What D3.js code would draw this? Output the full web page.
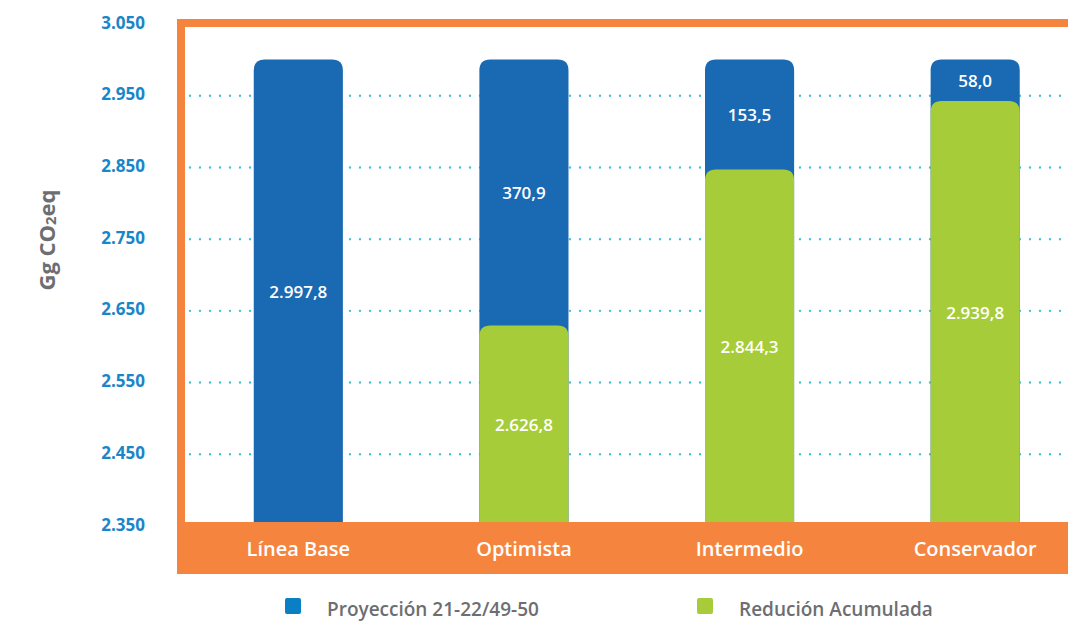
<!DOCTYPE html>
<html>
<head>
<meta charset="utf-8">
<script src="https://cdn.jsdelivr.net/npm/d3@7"></script>
<style>
	body { margin: 0; background: #fff; }
	svg { display: block; font-family: 'Open Sans', 'Noto Sans', sans-serif; }
</style>
</head>
<body>
<div id="chart"></div>
<script>
// data
const categories = ['Línea Base', 'Optimista', 'Intermedio', 'Conservador']
const reduction = [0, 2626.8, 2844.3, 2939.8]
const projection = [2997.8, 370.9, 153.5, 58.0]
const tickValues = [2350, 2450, 2550, 2650, 2750, 2850, 2950, 3050]
const seriesNames = ['Proyección 21-22/49-50', 'Redución Acumulada']

const width = 1068
const height = 624
const orange = '#F5843F'
const blue = '#1A69B3'
const green = '#A6CD39'
const tickBlue = '#1A86C8'
const grey = '#6D6E71'

const fmt = v => {
	// spanish style: 2.997,8
	const s = v.toFixed(1).split('.')
	return s[0].replace(/\B(?=(\d{3})+(?!\d))/g, '.') + ',' + s[1]
}
const fmtTick = v => String(v).replace(/\B(?=(\d{3})+(?!\d))/g, '.')

const svg = d3.select('#chart').append('svg').attr('width', width).attr('height', height)

const y = d3.scaleLinear().domain([2350, 3050]).range([524, 22])
const x = d3.scaleBand().domain(categories).range([185.5, 1088]).paddingInner(0.605).paddingOuter(0.3025)

// gridlines
svg.append('g')
	.selectAll('line')
	.data(tickValues.filter(t => t > 2350 && t < 3050))
	.enter()
	.append('line')
	.attr('x1', 190)
	.attr('x2', width)
	.attr('y1', d => y(d) + 2)
	.attr('y2', d => y(d) + 2)
	.attr('stroke', '#3EC4D6')
	.attr('stroke-width', 2.4)
	.attr('stroke-linecap', 'round')
	.attr('stroke-dasharray', '0 10')

// frame
svg.append('rect')
	.attr('x', 181)
	.attr('y', 23)
	.attr('width', 1000)
	.attr('height', 520)
	.attr('fill', 'none')
	.attr('stroke', orange)
	.attr('stroke-width', 8)

// rounded-top bar path
const topRounded = (x0, w, yTop, yBot, r) =>
	`M${x0},${yBot}V${yTop + r}Q${x0},${yTop} ${x0 + r},${yTop}H${x0 + w - r}Q${x0 + w},${yTop} ${x0 + w},${yTop + r}V${yBot}Z`

const rows = categories.map((c, i) => ({ cat: c, red: reduction[i], proj: projection[i], total: reduction[i] + projection[i] }))
const bw = x.bandwidth()

const bars = svg.append('g')
bars.selectAll('.proj')
	.data(rows)
	.enter()
	.append('path')
	.attr('class', 'proj')
	.attr('fill', blue)
	.attr('d', d => topRounded(x(d.cat), bw, y(d.total), y(2350), 11))

bars.selectAll('.red')
	.data(rows.filter(d => d.red > 0))
	.enter()
	.append('path')
	.attr('class', 'red')
	.attr('fill', green)
	.attr('d', d => topRounded(x(d.cat), bw, y(d.red), y(2350), 11))

// value labels
const labels = svg.append('g')
	.attr('fill', '#fff')
	.attr('font-size', 17)
	.attr('font-weight', 600)
	.attr('text-anchor', 'middle')
	.attr('dominant-baseline', 'central')

labels.selectAll('.lp')
	.data(rows)
	.enter()
	.append('text')
	.attr('x', d => x(d.cat) + bw / 2)
	.attr('y', d => (y(d.total) + y(d.red > 0 ? d.red : 2350)) / 2)
	.text(d => fmt(d.proj))

labels.selectAll('.lr')
	.data(rows.filter(d => d.red > 0))
	.enter()
	.append('text')
	.attr('x', d => x(d.cat) + bw / 2)
	.attr('y', d => (y(d.red) + y(2350)) / 2)
	.text(d => fmt(d.red))

// bottom band with categories
svg.append('rect')
	.attr('x', 177)
	.attr('y', 522)
	.attr('width', width - 177)
	.attr('height', 52)
	.attr('fill', orange)

svg.append('g')
	.selectAll('text')
	.data(categories)
	.enter()
	.append('text')
	.attr('x', d => x(d) + bw / 2)
	.attr('y', 548)
	.attr('text-anchor', 'middle')
	.attr('dominant-baseline', 'central')
	.attr('fill', '#fff')
	.attr('font-size', 20)
	.attr('font-weight', 600)
	.text(d => d)

// y ticks
svg.append('g')
	.selectAll('text')
	.data(tickValues)
	.enter()
	.append('text')
	.attr('x', 145)
	.attr('y', d => y(d))
	.attr('text-anchor', 'end')
	.attr('dominant-baseline', 'central')
	.attr('fill', tickBlue)
	.attr('font-size', 17)
	.attr('font-weight', 700)
	.text(fmtTick)

// y title
const title = svg.append('text')
	.attr('transform', 'translate(46,240) rotate(-90)')
	.attr('text-anchor', 'middle')
	.attr('dominant-baseline', 'central')
	.attr('fill', grey)
	.attr('font-size', 22)
	.attr('font-weight', 700)
title.append('tspan').text('Gg CO')
title.append('tspan').attr('font-size', 15).attr('dy', 4).text('2')
title.append('tspan').attr('dy', -4).text('eq')

// legend
const legend = svg.append('g')
	.selectAll('g')
	.data(seriesNames)
	.enter()
	.append('g')
	.attr('transform', (d, i) => `translate(${285 + i * 412},598)`)

legend.append('rect')
	.attr('width', 16)
	.attr('height', 16)
	.attr('rx', 2)
	.attr('fill', (d, i) => (i === 0 ? '#0B7FC4' : green))

legend.append('text')
	.attr('x', 42)
	.attr('y', 11)
	.attr('dominant-baseline', 'central')
	.attr('fill', grey)
	.attr('font-size', 19)
	.attr('font-weight', 600)
	.text(d => d)
</script>
</body>
</html>
